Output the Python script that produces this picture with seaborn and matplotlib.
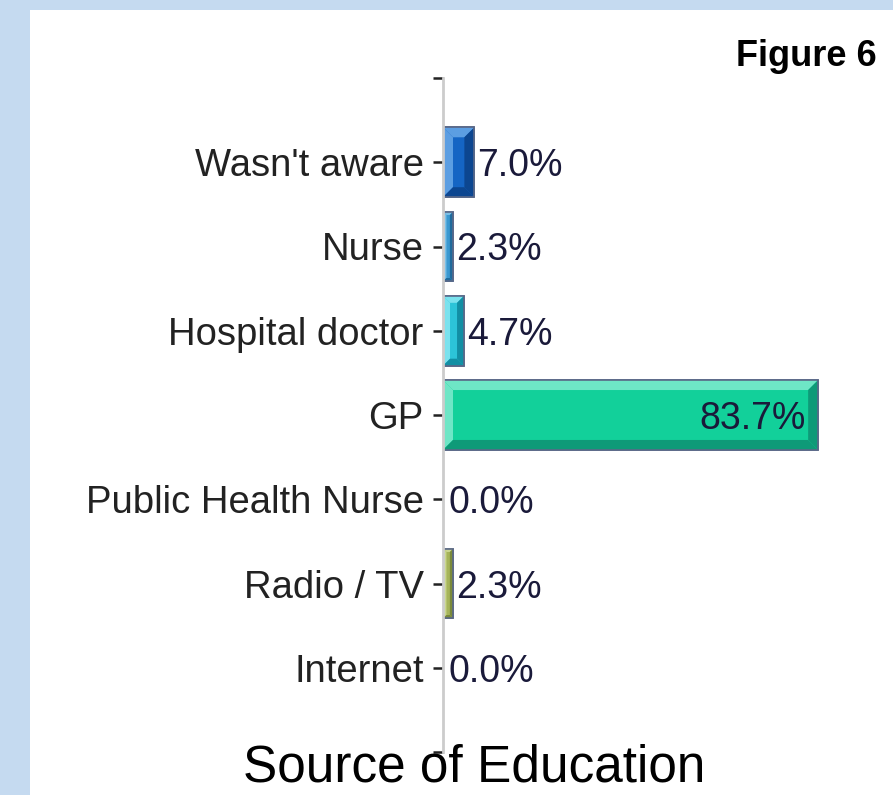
import matplotlib
matplotlib.use('Agg')
import matplotlib.pyplot as plt
import seaborn as sns
import pandas as pd
import numpy as np
from matplotlib import font_manager
from matplotlib.patches import Rectangle, Polygon

# Data
sources = ["Wasn't aware", "Nurse", "Hospital doctor", "GP",
           "Public Health Nurse", "Radio / TV", "Internet"]
percent = [7.0, 2.3, 4.7, 83.7, 0.0, 2.3, 0.0]
bar_colors = ["#1565c4", "#3a98d0", "#2cc4d8", "#12d09a",
              "#5aa0c8", "#a6b45a", "#8a8a8a"]
light_colors = ["#5c9ee2", "#7cc0e6", "#7ae2ee", "#6ee6c6",
                "#9cc8e0", "#cad690", "#b0b0b0"]
dark_colors = ["#0c4690", "#1f6a9c", "#128fa4", "#0e9a78",
               "#3a7aa0", "#7a8a3a", "#606060"]

df = pd.DataFrame({'source': sources, 'percent': percent})

sns.set_theme(style='white')
names = {f.name for f in font_manager.fontManager.ttflist}
narrow = 'Liberation Sans Narrow' if 'Liberation Sans Narrow' in names else 'Liberation Sans'
tick_size = 31 if narrow == 'Liberation Sans Narrow' else 27.5
plt.rcParams['font.family'] = ['Liberation Sans', 'DejaVu Sans']

fig = plt.figure(figsize=(8.93, 7.95), dpi=100)
fig.patch.set_facecolor('white')
# light blue frame on top and left
fig.patches.append(Rectangle((0, 1 - 10 / 795), 1, 10 / 795, transform=fig.transFigure,
                             facecolor='#c5daf0', edgecolor='none', zorder=0))
fig.patches.append(Rectangle((0, 0), 30 / 893, 1, transform=fig.transFigure,
                             facecolor='#c5daf0', edgecolor='none', zorder=0))

ax = fig.add_axes([443 / 893, 43 / 795, 1 - 443 / 893 - 0.002, (752 - 78) / 795])

sns.barplot(data=df, x='percent', y='source', hue='source', palette=bar_colors,
            orient='h', width=0.83, legend=False, ax=ax,
            edgecolor='#5a6888', linewidth=1.2, saturation=1)

ax.set_xlim(0, 100)
ax.set_ylim(7, -1)
ax.set_yticks(range(-1, 8))
ax.set_yticklabels([''] + sources + [''], fontsize=tick_size, color='#222222', family=narrow)
ax.set_xticks([])
ax.set_xlabel('')
ax.set_ylabel('')
for s in ['top', 'right', 'bottom']:
    ax.spines[s].set_visible(False)
ax.spines['left'].set_color('#cccccc')
ax.spines['left'].set_linewidth(2)
ax.tick_params(axis='y', length=7, width=1.8, color='#222222', pad=7, left=True)

# bevel effect on the bars
fig.canvas.draw()
inv = ax.transData.inverted()
for i, p in enumerate(ax.patches):
    if p.get_width() <= 0:
        p.set_linewidth(0)
        continue
    (x0, y0), (x1, y1) = ax.transData.transform([(p.get_x(), p.get_y()),
                                                 (p.get_x() + p.get_width(), p.get_y() + p.get_height())])
    xa, xb = min(x0, x1), max(x0, x1)
    ya, yb = min(y0, y1), max(y0, y1)
    b = min(10, (xb - xa) / 3)
    pieces = [
        ([(xa, yb), (xb, yb), (xb - b, yb - b), (xa + b, yb - b)], light_colors[i]),
        ([(xa, ya), (xa, yb), (xa + b, yb - b), (xa + b, ya + b)], light_colors[i]),
        ([(xa, ya), (xb, ya), (xb - b, ya + b), (xa + b, ya + b)], dark_colors[i]),
        ([(xb, ya), (xb, yb), (xb - b, yb - b), (xb - b, ya + b)], dark_colors[i]),
    ]
    for pts, c in pieces:
        ax.add_patch(Polygon(inv.transform(pts), closed=True, facecolor=c,
                             edgecolor='none', zorder=p.get_zorder() + 0.1))
    ax.add_patch(Rectangle((p.get_x(), p.get_y()), p.get_width(), p.get_height(),
                           facecolor='none', edgecolor='#5a6888', linewidth=1.2,
                           zorder=p.get_zorder() + 0.2))

# value labels
for i, v in enumerate(percent):
    if v > 50:
        ax.text(v - 2.8, i, f'{v:.1f}%', ha='right', va='center_baseline', fontsize=27,
                color='#1a1a3a', family=narrow, zorder=5)
    else:
        ax.text(v + 0.6 if v > 0 else 1.2, i, f'{v:.1f}%', ha='left', va='center_baseline',
                fontsize=27, color='#1a1a3a', family=narrow, zorder=5)

fig.text(474 / 893, 1 - 782 / 795, 'Source of Education', ha='center', va='baseline',
         fontsize=37, color='black')
fig.text(877 / 893, 1 - 57 / 795, 'Figure 6', ha='right', va='center',
         fontsize=26, fontweight='bold', color='black')

fig.savefig('out.png', dpi=100)
